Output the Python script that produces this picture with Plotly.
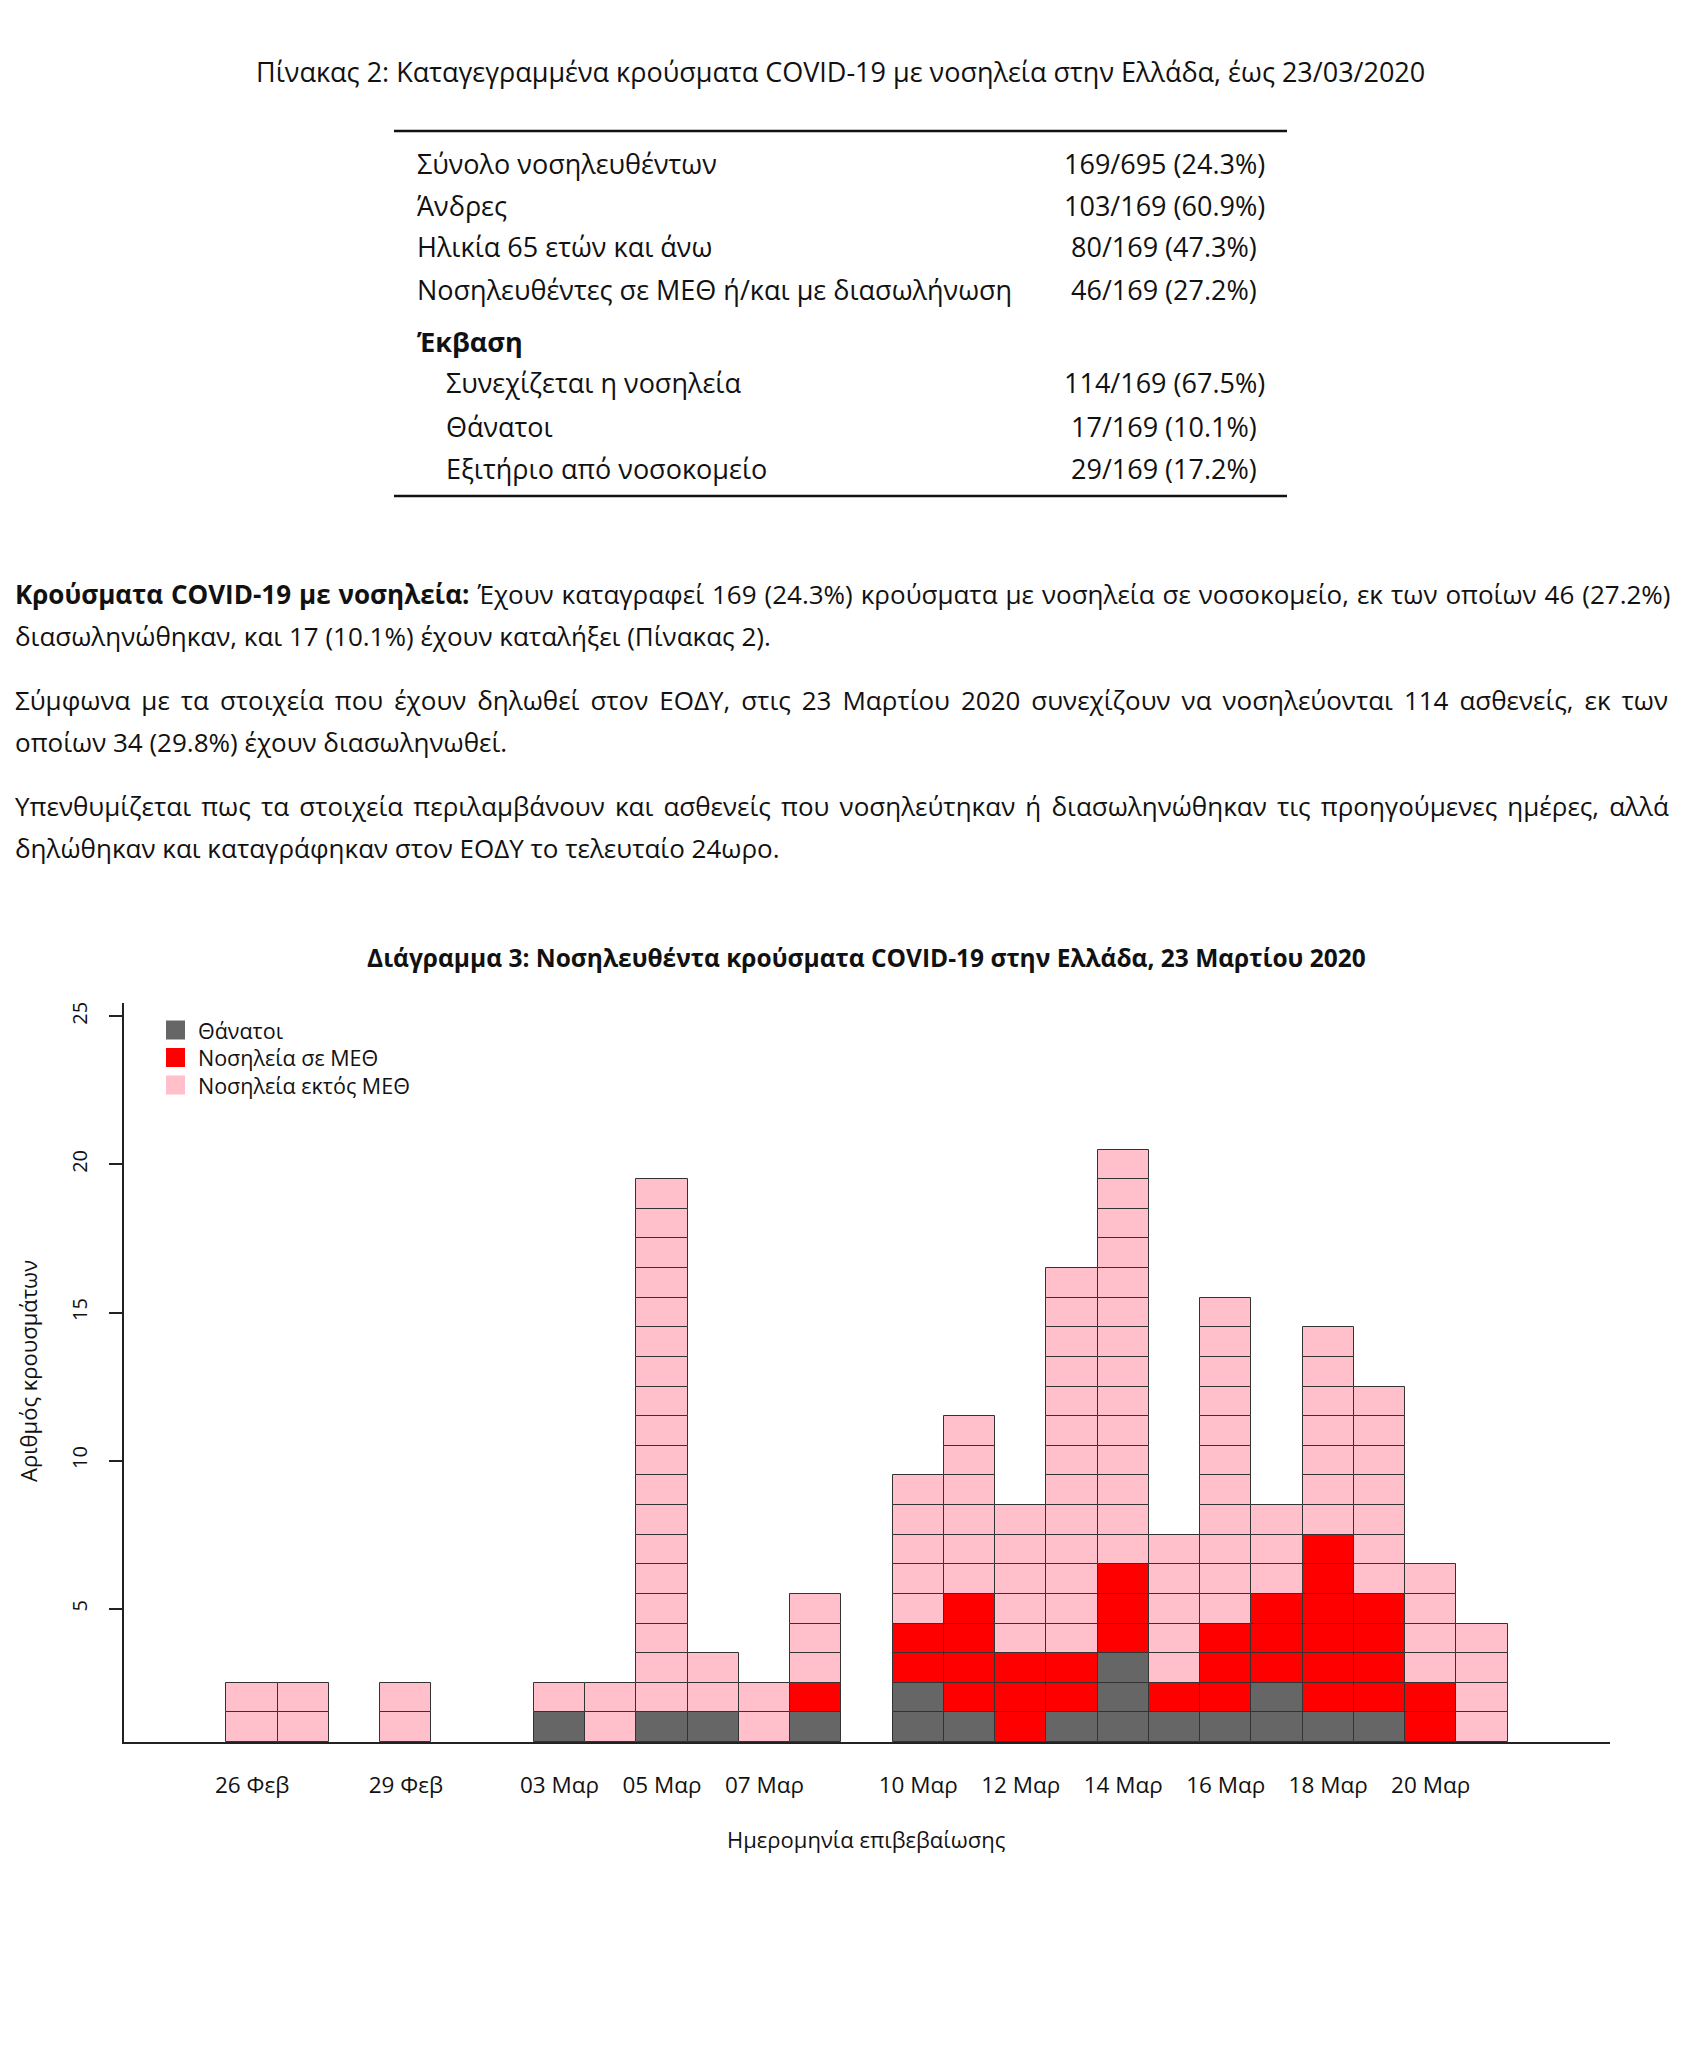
import plotly.graph_objects as go

# ---------------- data ----------------
dates = ["2020-02-26", "2020-02-27", "2020-02-29", "2020-03-03", "2020-03-04",
         "2020-03-05", "2020-03-06", "2020-03-07", "2020-03-08", "2020-03-10",
         "2020-03-11", "2020-03-12", "2020-03-13", "2020-03-14", "2020-03-15",
         "2020-03-16", "2020-03-17", "2020-03-18", "2020-03-19", "2020-03-20",
         "2020-03-21"]
deaths = [0, 0, 0, 1, 0, 1, 1, 0, 1, 2, 1, 0, 1, 3, 1, 1, 2, 1, 1, 0, 0]
icu    = [0, 0, 0, 0, 0, 0, 0, 0, 1, 2, 4, 3, 2, 3, 1, 3, 3, 6, 4, 2, 0]
ward   = [2, 2, 2, 1, 2, 18, 2, 2, 3, 5, 6, 5, 13, 14, 5, 11, 3, 7, 7, 4, 4]

series_names = ["Θάνατοι", "Νοσηλεία σε ΜΕΘ", "Νοσηλεία εκτός ΜΕΘ"]
series_colors = ["#666666", "#FF0000", "#FFC0CB"]

tick_dates = ["2020-02-26", "2020-02-29", "2020-03-03", "2020-03-05", "2020-03-07",
              "2020-03-10", "2020-03-12", "2020-03-14", "2020-03-16", "2020-03-18",
              "2020-03-20"]
tick_labels = ["26 Φεβ", "29 Φεβ", "03 Μαρ", "05 Μαρ", "07 Μαρ", "10 Μαρ",
               "12 Μαρ", "14 Μαρ", "16 Μαρ", "18 Μαρ", "20 Μαρ"]
y_ticks = [5, 10, 15, 20, 25]

table_labels = ["Σύνολο νοσηλευθέντων", "Άνδρες", "Ηλικία 65 ετών και άνω",
                "Νοσηλευθέντες σε ΜΕΘ ή/και με διασωλήνωση"]
table_values = ["169/695 (24.3%)", "103/169 (60.9%)", "80/169 (47.3%)", "46/169 (27.2%)"]
outcome_header = "Έκβαση"
outcome_labels = ["Συνεχίζεται η νοσηλεία", "Θάνατοι", "Εξιτήριο από νοσοκομείο"]
outcome_values = ["114/169 (67.5%)", "17/169 (10.1%)", "29/169 (17.2%)"]

# ---------------- geometry helpers ----------------
W, H = 1707, 2048
OFF = 8                              # page body margin of the html page
L, R, T, B = 124, 1610, 1003, 1742   # plot area in page pixels


def px(x):
    return (x - L) / (R - L)


def py(y):
    return (B - y) / (B - T)


FONT = "Open Sans"
TXT = "#111111"

# ---------------- unit-cell traces ----------------
fig = go.Figure()
stack = [deaths, icu, ward]
for si, (name, col) in enumerate(zip(series_names, series_colors)):
    xs, bases = [], []
    for di, d in enumerate(dates):
        below = sum(stack[k][di] for k in range(si))
        for j in range(stack[si][di]):
            xs.append(d)
            bases.append(below + j + 0.5)
    fig.add_trace(go.Bar(
        x=xs, y=[1] * len(xs), base=bases, name=name,
        width=86400000, marker=dict(color=col, line=dict(color="#333333", width=1)),
        showlegend=False, hoverinfo="x+name"))

annotations = []
shapes = []


def ann(x, y, text, size, xanchor="left", family=FONT, angle=0, color=TXT):
    annotations.append(dict(x=px(x), y=py(y), xref="paper", yref="paper", text=text,
                            showarrow=False, xanchor=xanchor, yanchor="middle",
                            textangle=angle,
                            font=dict(family=family, size=size, color=color)))


def justified(text, ws):
    return '<span style="word-spacing:%.1fpx">%s</span>' % (ws, text)


# page title
ann(840, 72, "Πίνακας 2: Καταγεγραμμένα κρούσματα COVID-19 με νοσηλεία στην Ελλάδα, έως 23/03/2020",
    27, "center")

# table rules
for yy in (131, 496):
    shapes.append(dict(type="line", xref="paper", yref="paper", x0=px(394), x1=px(1287),
                       y0=py(yy), y1=py(yy), line=dict(color="#111111", width=2.5)))

TS = 27
row_y = [163, 205, 247, 290]
for lab, val, yy in zip(table_labels, table_values, row_y):
    ann(415, yy, lab, TS)
    ann(1164, yy, val, TS, "center")
ann(415, 341, "<b>" + outcome_header + "</b>", TS)
for lab, val, yy in zip(outcome_labels, outcome_values, [383, 426, 468]):
    ann(444, yy, lab, TS)
    ann(1164, yy, val, TS, "center")

# paragraphs
PS = 26
ann(13, 594, justified("<b>Κρούσματα COVID-19 με νοσηλεία:</b> Έχουν καταγραφεί 169 (24.3%) "
                       "κρούσματα με νοσηλεία σε νοσοκομείο, εκ των οποίων 46 (27.2%)", 1.2), PS)
ann(13, 636, "διασωληνώθηκαν, και 17 (10.1%) έχουν καταλήξει (Πίνακας 2).", PS)
ann(13, 700, justified("Σύμφωνα με τα στοιχεία που έχουν δηλωθεί στον ΕΟΔΥ, στις 23 Μαρτίου 2020 "
                       "συνεχίζουν να νοσηλεύονται 114 ασθενείς, εκ των", 4.2), PS)
ann(13, 742, "οποίων 34 (29.8%) έχουν διασωληνωθεί.", PS)
ann(13, 806, justified("Υπενθυμίζεται πως τα στοιχεία περιλαμβάνουν και ασθενείς που νοσηλεύτηκαν "
                       "ή διασωληνώθηκαν τις προηγούμενες ημέρες, αλλά", 3.4), PS)
ann(13, 848, "δηλώθηκαν και καταγράφηκαν στον ΕΟΔΥ το τελευταίο 24ωρο.", PS)

# chart title
ann(866, 957, "<b>Διάγραμμα 3: Νοσηλευθέντα κρούσματα COVID-19 στην Ελλάδα, 23 Μαρτίου 2020</b>",
    24.5, "center")

# axis titles
ann(866, 1839, "Ημερομηνία επιβεβαίωσης", 22, "center")
ann(28, 1371, "Αριθμός κρουσμάτων", 22, "center", angle=-90)

# legend (drawn by hand to match the large square swatches)
for i, (name, col) in enumerate(zip(series_names, series_colors)):
    yc = 1030 + i * 27.5
    shapes.append(dict(type="rect", xref="paper", yref="paper", x0=px(166), x1=px(185),
                       y0=py(yc + 9.5), y1=py(yc - 9.5), fillcolor=col,
                       line=dict(width=0)))
    ann(196, yc, name, 21.5)

fig.update_layout(
    width=W, height=H,
    margin=dict(l=L - OFF, r=W - (R - OFF), t=T - OFF, b=H - (B - OFF), pad=0),
    paper_bgcolor="white", plot_bgcolor="white",
    barmode="overlay", bargap=0,
    annotations=annotations, shapes=shapes,
    showlegend=False,
    font=dict(family=FONT, color=TXT),
    xaxis=dict(type="date", range=["2020-02-23 12:00", "2020-03-23 12:00"],
               tickvals=tick_dates, ticktext=tick_labels, ticks="",
               showgrid=False, zeroline=False, showline=True, linecolor="#222222",
               linewidth=2, ticklabelstandoff=22,
               tickfont=dict(family=FONT, size=22.5, color=TXT)),
    yaxis=dict(range=[0.5, 25.45], tickvals=y_ticks, ticks="outside",
               ticklen=13, tickwidth=1.5, tickcolor="#222222", tickangle=-90,
               showgrid=False, zeroline=False, showline=True, linecolor="#222222",
               linewidth=1.5, ticklabelstandoff=14,
               tickfont=dict(family=FONT, size=20, color=TXT)),
)

fig.write_html("out.html")
